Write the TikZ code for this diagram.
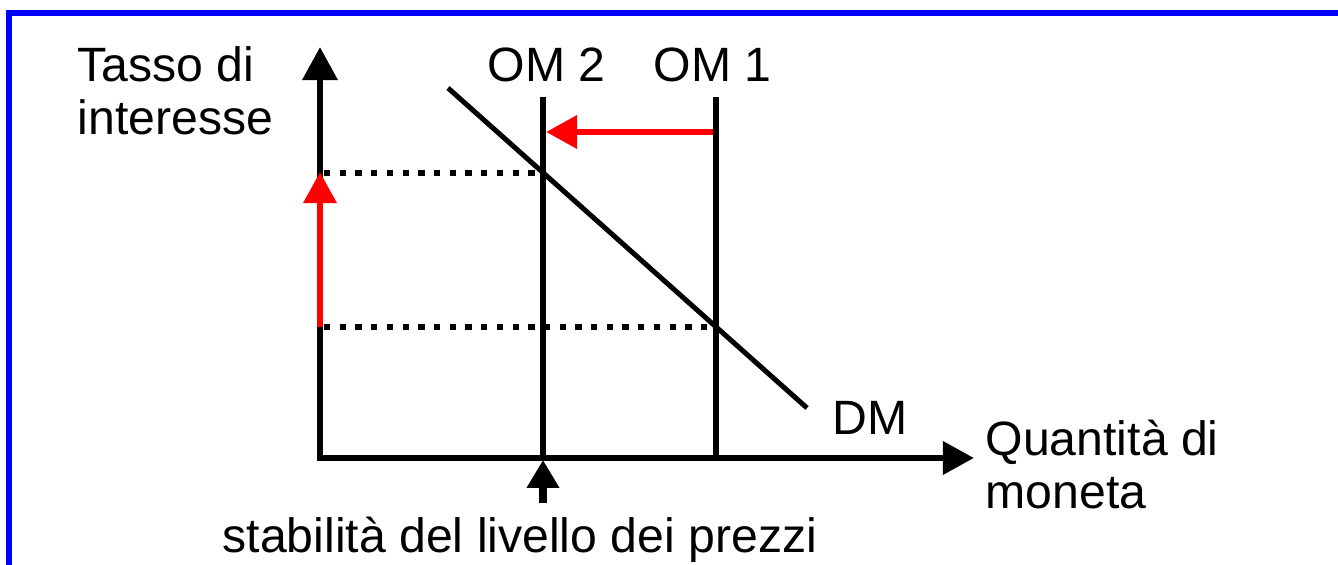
\documentclass[tikz,border=0pt]{standalone}
\usepackage{fontspec}
\setmainfont{Liberation Sans}
\usetikzlibrary{arrows.meta}

\tikzset{
  frame/.style={draw=blue, line width=0.06cm},
  axis/.style={line width=0.065cm, {Triangle[width=0.34cm,length=0.33cm]}-{Triangle[width=0.32cm,length=0.31cm]}},
  offer/.style={line width=0.06cm},
  demand/.style={line width=0.05cm},
  level/.style={line width=0.063cm, dash pattern=on 0.063cm off 0.094cm},
  redshift/.style={red, line width=0.065cm, -{Triangle[width=0.32cm,length=0.31cm]}},
  stabarrow/.style={line width=0.07cm, -{Triangle[width=0.31cm,length=0.28cm]}},
  lab/.style={anchor=base west, inner sep=0pt}
}

\begin{document}
\begin{tikzpicture}[x=0.01cm, y=-0.01cm, font=\fontsize{13.7}{16}\selectfont]
  \useasboundingbox (0,0) rectangle (1338,565);
  \draw[frame] (9,565) -- (9,13) -- (1338,13);

  % points
  \coordinate (O) at (320,458);
  \coordinate (ytip) at (320,47);
  \coordinate (xtip) at (974,458);
  \coordinate (om2top) at (543,97);
  \coordinate (om2bot) at (543,458);
  \coordinate (om1top) at (716,97);
  \coordinate (om1bot) at (716,458);
  \coordinate (dmstart) at (448,88);
  \coordinate (dmend) at (807,408);
  \coordinate (r1) at (320,327);
  \coordinate (r2) at (320,172);
  \coordinate (h1) at (716,132);
  \coordinate (h2) at (546,132);
  \coordinate (stab) at (543,503);
  \coordinate (stabtip) at (543,460);

  % levels
  \draw[level] (324,173) -- (om2bot |- 0,173);
  \draw[level] (324,327) -- (om1bot |- 0,327);

  % shift of money supply
  \draw[redshift] (h1) -- (h2);

  \draw[axis] (ytip) -- (O) -- (xtip);
  \draw[offer] (om2top) -- (om2bot);
  \draw[offer] (om1top) -- (om1bot);
  \draw[demand] (dmstart) -- (dmend);
  \draw[redshift] (r1) -- (r2);
  \draw[stabarrow] (stab) -- (stabtip);

  % labels
  \node[lab] (ylab1) at (77,82) {Tasso di};
  \node[lab] (ylab2) at (77,135) {interesse};
  \node[lab] (om2) at (487,82) {OM 2};
  \node[lab] (om1) at (653,82) {OM 1};
  \node[lab] (dm) at (832,435) {DM};
  \node[lab] (xlab1) at (985,456) {Quantità di};
  \node[lab] (xlab2) at (985,509) {moneta};
  \node[lab] (stablab) at (222,553) {stabilità del livello dei prezzi};
\end{tikzpicture}
\end{document}
